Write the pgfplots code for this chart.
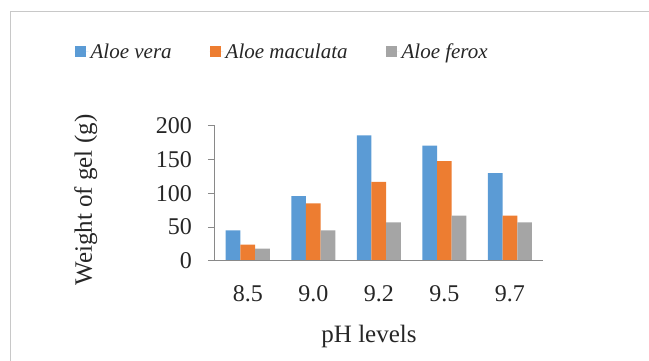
\documentclass[border=0pt]{standalone}
\usepackage{pgfplots}
\pgfplotsset{compat=1.18}
\usepackage{fontspec}
\setmainfont{Liberation Serif}

\definecolor{cBlue}{HTML}{5B9BD5}
\definecolor{cOrange}{HTML}{ED7D31}
\definecolor{cGray}{HTML}{A5A5A5}
\definecolor{axisGray}{HTML}{898989}
\definecolor{frameGray}{HTML}{C8C8C8}

\begin{document}
\begin{tikzpicture}
\useasboundingbox (0,0) rectangle (649pt,361pt);
% chart frame (left and top edges)
\draw[frameGray, line width=0.8pt] (10.3pt,0) -- (10.3pt,349.3pt) -- (649pt,349.3pt);
\begin{axis}[
  at={(215pt,100.3pt)}, anchor=south west,
  scale only axis, width=327.7pt, height=134.7pt,
  ybar=0pt, bar width=14.7pt,
  xmin=-0.5, xmax=4.5, ymin=0, ymax=200,
  enlargelimits=false,
  axis on top,
  axis x line=bottom, axis y line=left,
  x axis line style={-, axisGray, line width=1.5pt},
  y axis line style={-, axisGray, line width=1pt},
  xtick=data, xticklabels={8.5,9.0,9.2,9.5,9.7},
  ytick={0,50,100,150,200},
  tick align=outside, major tick length=7pt,
  xtick style={draw=none},
  ytick style={axisGray, line width=1pt},
  /pgf/number format/assume math mode=true,
  tick label style={font=\fontsize{24}{28}\selectfont, text=black!85},
  xticklabel style={anchor=base, inner sep=0pt, yshift=-34pt},
  yticklabel style={anchor=east, inner sep=0pt, xshift=-16pt},
  xlabel={pH levels}, ylabel={Weight of gel (g)},
  label style={font=\fontsize{25}{30}\selectfont, text=black!85},
  xlabel style={at={(axis description cs:0.47,0)}, anchor=base, yshift=-82.3pt},
  ylabel style={at={(axis description cs:-0.394,0.45)}, anchor=center},
  legend columns=3,
  legend style={at={(axis description cs:0.205,1.55)}, anchor=center,
    draw=none, fill=none, font=\fontsize{21}{25}\selectfont\itshape,
    text=black!85,
    /tikz/every even column/.append style={column sep=36pt}},
  legend image code/.code={%
    \fill[#1, draw=none] (0pt,-5.5pt) rectangle (11pt,5.5pt);
    \path (0pt,0pt) -- (14pt,0pt);},
]
\addplot[fill=cBlue, draw=none] coordinates {(0,45) (1,96) (2,186) (3,171) (4,130)};
\addplot[fill=cOrange, draw=none] coordinates {(0,24) (1,85) (2,117) (3,148) (4,67)};
\addplot[fill=cGray, draw=none] coordinates {(0,18) (1,45) (2,57) (3,67) (4,57)};
\legend{Aloe vera, Aloe maculata, Aloe ferox}
\end{axis}
\end{tikzpicture}
\end{document}
